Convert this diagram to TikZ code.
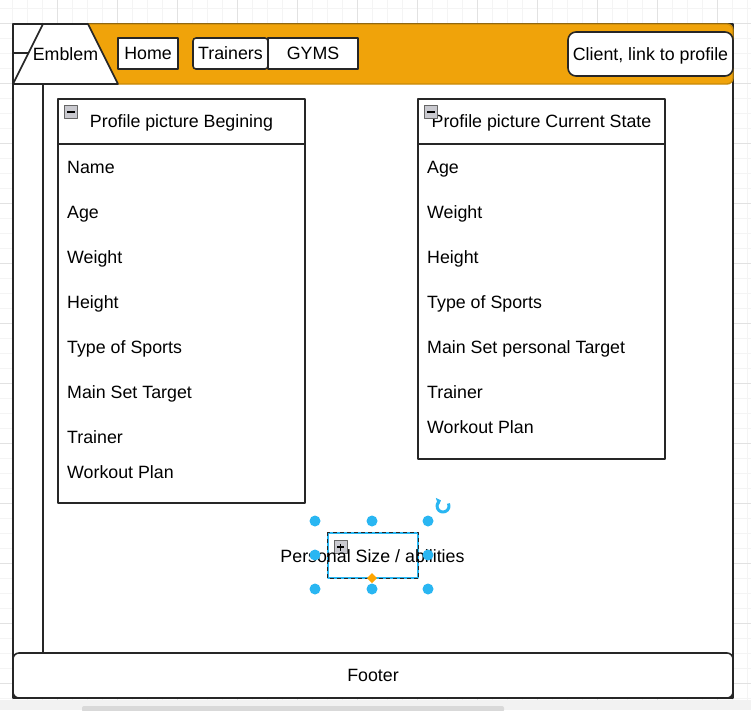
\documentclass[tikz,border=0pt]{standalone}
\usepackage{fontspec}
\setmainfont{Liberation Sans}
\usetikzlibrary{arrows.meta}
\definecolor{barorange}{HTML}{F0A30A}
\definecolor{barline}{HTML}{C98A08}
\definecolor{handleblue}{HTML}{29B6F2}
\definecolor{gridminor}{HTML}{F4F4F4}
\definecolor{gridmajor}{HTML}{E2E2E2}
\definecolor{iconfill}{HTML}{C9C9CF}
\definecolor{diamondorange}{HTML}{FFA500}

\begin{document}
\begin{tikzpicture}[x=1pt, y=-1pt, line join=round,
    every node/.style={font=\fontsize{17.8}{21}\selectfont, text=black, inner sep=0pt, text height=12.7pt, text depth=0pt},
    frameline/.style={draw=black!85, line width=1.6pt},
    navbox/.style={frameline, fill=white, minimum height=31pt},
    tablebox/.style={frameline, fill=white, minimum width=247pt},
    iconbox/.style={draw=gray!80!black, fill=iconfill, line width=0.8pt, minimum width=13pt, minimum height=12pt}]

\useasboundingbox (0,0) rectangle (751,710);

% Canvas grid
\foreach \k in {0,...,49} {
    \draw[gridminor, line width=0.8pt] ({12.7+15*\k},0) -- ({12.7+15*\k},700);
    \draw[gridminor, line width=0.8pt] (0,{8.3+15*\k}) -- (751,{8.3+15*\k});
}
\foreach \k in {0,...,12} {
    \draw[gridmajor, line width=0.8pt] ({57.7+60*\k},0) -- ({57.7+60*\k},700);
    \draw[gridmajor, line width=0.8pt] (0,{23.3+60*\k}) -- (751,{23.3+60*\k});
}

% Page frame
\draw[frameline, fill=white] (13,24) rectangle (733,698);
\draw[frameline] (13,53) -- (30,53);
\draw[frameline] (43,84) -- (43,653);

% Top bar
\draw[draw=barline, fill=barorange, line width=1.4pt, rounded corners=6pt] (60,24) rectangle (733,84);
\draw[frameline, fill=white] (13,84) -- (43,24) -- (88,24) -- (118,84) -- cycle;
\node (emblem) at (65.5,54) {Emblem};

\node[navbox, minimum width=60pt] (home) at (148,53.5) {Home};
\node[navbox, minimum width=75pt, rounded corners=3pt] (trainers) at (230.5,53.5) {Trainers};
\node[navbox, minimum width=90pt] (gyms) at (313,53.5) {GYMS};
\node[frameline, fill=white, rounded corners=8pt, minimum width=165pt, minimum height=44pt] (client) at (650.5,54) {Client, link to profile};

% Profile at the beginning
\node[tablebox, minimum height=45pt] (beginhead) at (181.5,121.5) {Profile picture Begining};
\node[tablebox, minimum height=359pt] (beginbody) at (181.5,323.5) {};
\node[iconbox] (beginicon) at (71,112) {};
\draw[black, line width=1.4pt] (67,112) -- (75,112);

\node[anchor=west] (beginname) at (67,167) {Name};
\node[anchor=west] (beginage) at (67,212) {Age};
\node[anchor=west] (beginweight) at (67,257) {Weight};
\node[anchor=west] (beginheight) at (67,302) {Height};
\node[anchor=west] (beginsports) at (67,347) {Type of Sports};
\node[anchor=west] (begintarget) at (67,392) {Main Set Target};
\node[anchor=west] (begintrainer) at (67,437) {Trainer};
\node[anchor=west] (beginplan) at (67,472) {Workout Plan};

% Profile at the current state
\node[tablebox, minimum height=45pt] (currenthead) at (541.5,121.5) {Profile picture Current State};
\node[tablebox, minimum height=315pt] (currentbody) at (541.5,301.5) {};
\node[iconbox] (currenticon) at (431,112) {};
\draw[black, line width=1.4pt] (427,112) -- (435,112);

\node[anchor=west] (currentage) at (427,167) {Age};
\node[anchor=west] (currentweight) at (427,212) {Weight};
\node[anchor=west] (currentheight) at (427,257) {Height};
\node[anchor=west] (currentsports) at (427,302) {Type of Sports};
\node[anchor=west] (currenttarget) at (427,347) {Main Set personal Target};
\node[anchor=west] (currenttrainer) at (427,392) {Trainer};
\node[anchor=west] (currentplan) at (427,427) {Workout Plan};

% Selected element
\node[draw=handleblue, line width=1.4pt, minimum width=90pt, minimum height=45pt] (personal) at (373,555.5) {};
\draw[black!85, line width=1.4pt, dash pattern=on 4pt off 3pt] (personal.north west) rectangle (personal.south east);
\node[iconbox] (personalicon) at (340.5,547) {};
\draw[black, line width=1.2pt] (337,547) -- (344,547) (340.5,543.5) -- (340.5,550.5);
\node (personallabel) at (372.5,556.5) {Personal Size / abilities};

\foreach \hx/\hy in {315/521, 372/521, 428/521, 315/555, 428/555, 315/589, 372/589, 428/589}
    \fill[handleblue] (\hx,\hy) circle (5.5pt);
\fill[diamondorange] (372,573) -- (377,578) -- (372,583) -- (367,578) -- cycle;
\draw[handleblue, line width=3pt, -{Triangle[length=4pt, width=8pt]}] (443,506) ++(-25:6) arc[start angle=-25, end angle=250, radius=6];

% Footer
\node[frameline, fill=white, rounded corners=6pt, minimum width=720pt, minimum height=45pt] (footer) at (373,675.5) {Footer};

% Scroll bar
\fill[black!5] (0,700) rectangle (751,710);
\fill[black!15, rounded corners=2pt] (82,706) rectangle (504,712);

\end{tikzpicture}
\end{document}
